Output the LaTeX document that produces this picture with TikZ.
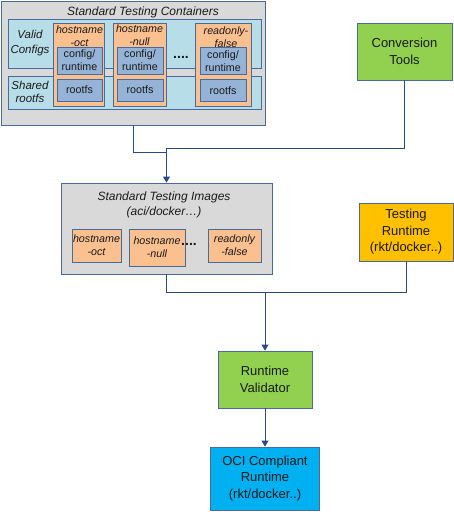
\documentclass[tikz,border=0pt]{standalone}
\usepackage{fontspec}
\setmainfont{Liberation Sans}
\usetikzlibrary{arrows.meta}
\definecolor{bordc}{HTML}{4A6A9A}
\definecolor{linec}{HTML}{2A4B82}
\definecolor{grayf}{HTML}{D9D9D9}
\definecolor{bluef}{HTML}{B7DEE8}
\definecolor{orf}{HTML}{FAC090}
\definecolor{cfgf}{HTML}{95B3D7}
\definecolor{greenf}{HTML}{92D050}
\definecolor{yelf}{HTML}{FFC000}
\definecolor{ocif}{HTML}{00B0F0}
\definecolor{txtc}{HTML}{1A1A1A}
\tikzset{
  box/.style={draw=bordc, line width=0.8pt, inner sep=0pt, align=center, text=txtc},
  bigfont/.style={font=\fontsize{13}{16.5}\selectfont},
  ttl/.style={font=\fontsize{12}{15}\selectfont\itshape, text=txtc, inner sep=0pt, align=center},
  lbl/.style={font=\fontsize{10.7}{13}\selectfont, text=txtc, inner sep=0pt, align=center},
  lbli/.style={font=\fontsize{10.7}{13}\selectfont\itshape, text=txtc, inner sep=0pt, align=center},
  dotsn/.style={font=\fontsize{14}{14}\selectfont\bfseries, text=txtc, inner sep=0pt},
  conn/.style={draw=linec, line width=0.9pt},
  arr/.style={conn, -{Triangle[width=7pt,length=6pt]}},
}
\begin{document}
\begin{tikzpicture}[x=1pt,y=-1pt]
\useasboundingbox (0,0) rectangle (454,514);
% Standard Testing Containers
\node[box, fill=grayf, minimum width=264, minimum height=124] (cont) at (133,63) {};
\node[ttl] (conttitle) at (143,12) {Standard Testing Containers};
\node[box, fill=bluef, minimum width=253, minimum height=49] (valid) at (134.5,43.5) {};
\node[box, fill=bluef, minimum width=253, minimum height=33] (shared) at (134.5,92.5) {};
\node[lbli, font=\fontsize{11.5}{15}\selectfont\itshape] (validlbl) at (30,43) {Valid\\Configs};
\node[lbli, font=\fontsize{11.5}{13}\selectfont\itshape] (sharedlbl) at (30,92) {Shared\\rootfs};
% columns
\node[box, fill=orf, minimum width=51, minimum height=83] (col1) at (78.5,64.5) {};
\node[box, fill=orf, minimum width=53, minimum height=83] (col2) at (139.5,64.5) {};
\node[box, fill=orf, minimum width=56, minimum height=83] (col3) at (223,64.5) {};
\node[lbli] (h1) at (79.5,36) {hostname\\-oct};
\node[lbli] (h2) at (139.5,35) {hostname\\-null};
\node[lbli] (h3) at (226,37) {readonly-\\false};
\node[box, fill=cfgf, minimum width=45, minimum height=27, lbl] (cfg1) at (79.5,60.5) {config/\\runtime};
\node[box, fill=cfgf, minimum width=46, minimum height=27, lbl] (cfg2) at (140,60.5) {config/\\runtime};
\node[box, fill=cfgf, minimum width=46, minimum height=27, lbl] (cfg3) at (223,61) {config/\\runtime};
\node[box, fill=cfgf, minimum width=45, minimum height=22, lbl] (rfs1) at (79.5,90) {rootfs};
\node[box, fill=cfgf, minimum width=46, minimum height=22, lbl] (rfs2) at (140,90) {rootfs};
\node[box, fill=cfgf, minimum width=46, minimum height=22, lbl] (rfs3) at (223,90.5) {rootfs};
\node[dotsn] (dots1) at (181,57) {....};
% Conversion Tools
\node[box, fill=greenf, bigfont, minimum width=95, minimum height=57] (conv) at (404.5,51.5) {Conversion\\Tools};
% Standard Testing Images
\node[box, fill=grayf, minimum width=211, minimum height=91] (img) at (166.5,228.5) {};
\node[ttl] (imgtitle) at (164,205) {Standard Testing Images\\(aci/docker\ldots)};
\node[box, fill=orf, minimum width=49, minimum height=33, lbli] (ioct) at (96.5,245.5) {hostname\\-oct};
\node[box, fill=orf, minimum width=56, minimum height=37, lbli] (inull) at (157,247.5) {hostname\\-null};
\node[box, fill=orf, minimum width=53, minimum height=33, lbli] (iro) at (234.5,245.5) {readonly\\-false};
\node[dotsn] (dots2) at (189,244) {....};
% Testing Runtime
\node[box, fill=yelf, bigfont, minimum width=94, minimum height=58] (tr) at (406,232) {Testing\\Runtime\\(rkt/docker..)};
% Runtime Validator
\node[box, fill=greenf, bigfont, minimum width=94, minimum height=57] (val) at (265,379.5) {Runtime\\Validator};
% OCI
\node[box, fill=ocif, bigfont, minimum width=109, minimum height=63] (oci) at (265,478.5) {OCI Compliant\\Runtime\\(rkt/docker..)};
% connectors
\coordinate (j1) at (166.5,152);
\coordinate (j2) at (166.5,148);
\coordinate (j3) at (265,292);
\draw[conn] (cont.south) |- (j1);
\draw[conn] (conv.south) |- (j2);
\draw[arr] (j2) -- (img.north);
\draw[conn] (img.south) |- (tr.south |- j3) -- (tr.south);
\draw[arr] (j3) -- (val.north);
\draw[arr] (val.south) -- (oci.north);
\end{tikzpicture}
\end{document}
